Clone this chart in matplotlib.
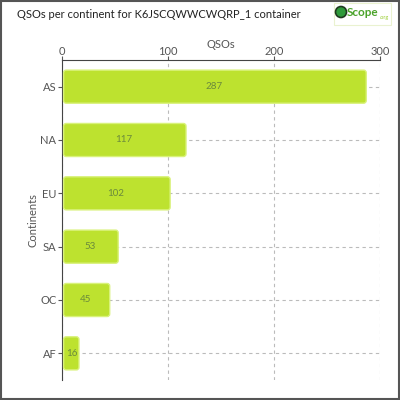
import matplotlib
matplotlib.use("Agg")
import matplotlib.pyplot as plt
from matplotlib.patches import FancyBboxPatch, Rectangle, Circle

continents = ["AS", "NA", "EU", "SA", "OC", "AF"]
qsos = [287, 117, 102, 53, 45, 16]
xticks = [0, 100, 200, 300]

plt.rcParams['font.family'] = ['Lato', 'DejaVu Sans']

fig = plt.figure(figsize=(4, 4), dpi=100)
ax = fig.add_axes([62/400, 20/400, 318/400, 320/400])

bars = ax.barh(range(len(continents)), qsos, height=0.62, color="none")
for b, v in zip(bars, qsos):
    x0, y0 = b.get_x(), b.get_y()
    w, h = b.get_width(), b.get_height()
    p = FancyBboxPatch((x0 + 1.5, y0), w - 1.5, h,
                       boxstyle="round,pad=0,rounding_size=2.5",
                       mutation_aspect=0.02,
                       facecolor="#bde22f", edgecolor="#d9f27a", linewidth=1,
                       zorder=3)
    ax.add_patch(p)
    ax.text(v / 2 if v > 30 else v / 2 + 1.5, y0 + h / 2, str(v), ha="center", va="center",
            fontsize=7, color="#6b8a3c", zorder=4)

ax.set_xlim(0, 300)
ax.set_ylim(5.5, -0.5)
ax.set_yticks(range(len(continents)))
ax.set_yticklabels(continents)
ax.set_xticks(xticks)
ax.xaxis.tick_top()
ax.xaxis.set_label_position("top")
ax.set_xlabel("QSOs", fontsize=8, color="#555555", labelpad=-1)
ax.set_ylabel("Continents", fontsize=8, color="#555555", labelpad=1)
ax.tick_params(labelsize=8, colors="#555555", length=3)
ax.tick_params(axis="y", pad=1)
ax.tick_params(axis="x", pad=-1)
ax.grid(True, linestyle=(0, (3, 3)), color="#bbbbbb", linewidth=0.8, zorder=0)
ax.set_axisbelow(True)
for s in ["right", "bottom"]:
    ax.spines[s].set_visible(False)
for s in ["top", "left"]:
    ax.spines[s].set_color("#444444")
    ax.spines[s].set_linewidth(0.8)

fig.text(17/400, 1 - 14/400, "QSOs per continent for K6JSCQWWCWQRP_1 container",
         fontsize=8, color="#222222", va="center", ha="left")

# logo
fig.patches.append(Rectangle((334/400, 1 - 25/400), 57/400, 22/400,
                             transform=fig.transFigure, facecolor="white",
                             edgecolor="#eaf2d0", linewidth=0.8))
fig.patches.append(Circle((341/400, 1 - 12/400), 5.5/400, transform=fig.transFigure,
                          facecolor="#2e9a3a", edgecolor="#1f3a1f", linewidth=1.2))
fig.text(347/400, 1 - 13/400, "Scope", fontsize=8.5, fontweight="bold",
         color="#4aa32a", va="center", ha="left")
fig.text(380/400, 1 - 17/400, ".org", fontsize=4, color="#9acd32",
         va="center", ha="left")

fig.patches.append(Rectangle((0.002, 0.002), 0.996, 0.996, transform=fig.transFigure,
                             facecolor="none", edgecolor="#555555", linewidth=1.5))

fig.savefig("out.png", dpi=100)
